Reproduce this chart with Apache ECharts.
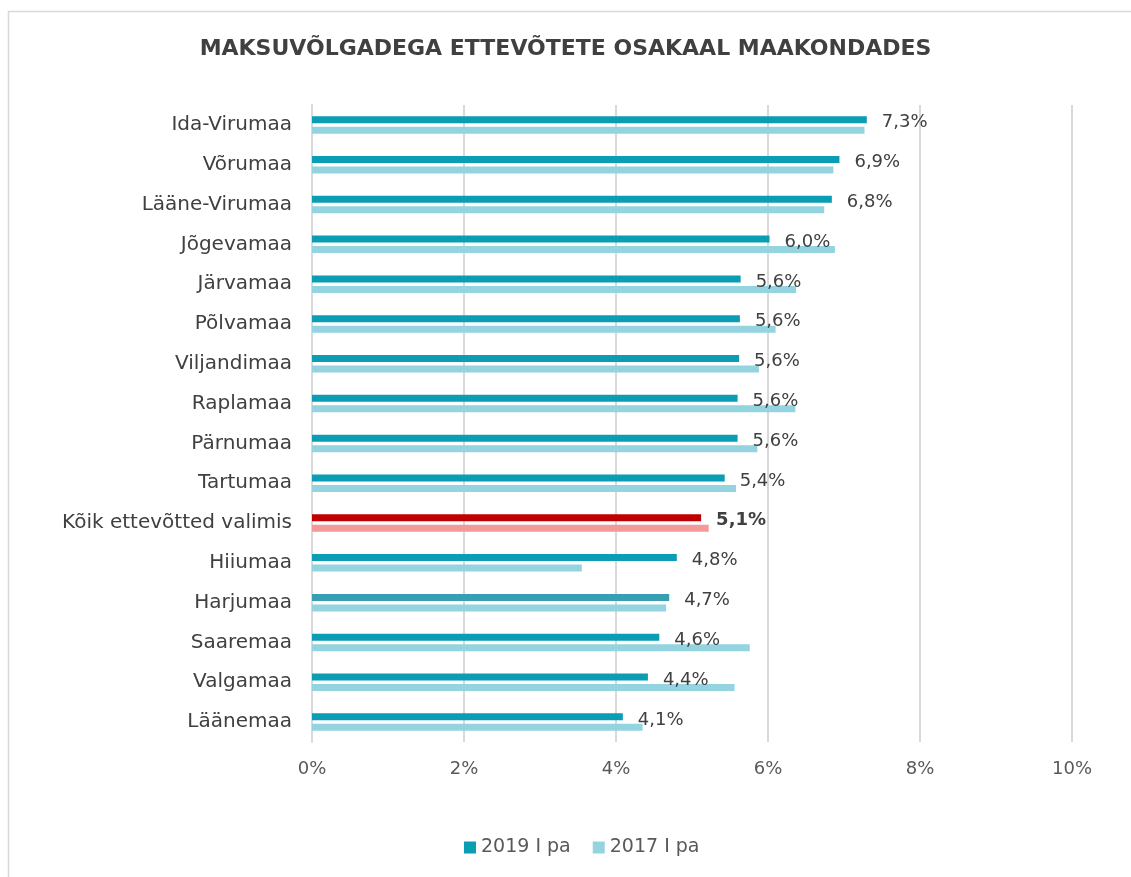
<!DOCTYPE html>
<html>
<head>
<meta charset="utf-8">
<script src="https://cdn.jsdelivr.net/npm/echarts@6/dist/echarts.min.js"></script>
<style>
  html, body { margin: 0; padding: 0; background: #fff; }
  #chart { width: 1131px; height: 877px; }
</style>
</head>
<body>
<div id="chart"></div>
<script>
// andmed
const categories = ['Ida-Virumaa', 'Võrumaa', 'Lääne-Virumaa', 'Jõgevamaa', 'Järvamaa', 'Põlvamaa',
    'Viljandimaa', 'Raplamaa', 'Pärnumaa', 'Tartumaa', 'Kõik ettevõtted valimis', 'Hiiumaa',
    'Harjumaa', 'Saaremaa', 'Valgamaa', 'Läänemaa']
const v2019 = [7.3, 6.94, 6.84, 6.02, 5.64, 5.63, 5.62, 5.6, 5.6, 5.43, 5.12, 4.8, 4.7, 4.57, 4.42, 4.09]
const v2017 = [7.27, 6.86, 6.74, 6.88, 6.37, 6.10, 5.88, 6.36, 5.86, 5.58, 5.22, 3.55, 4.66, 5.76, 5.56, 4.35]
const xTicks = [0, 2, 4, 6, 8, 10]
const seriesNames = ['2019 I pa', '2017 I pa']

const TOTAL = 'Kõik ettevõtted valimis'
const font = 'DejaVu Sans'

const myChart = echarts.init(document.getElementById('chart'))

const fmt = v => v.toFixed(1).replace('.', ',') + '%'

const option = {
    animation: false,
    textStyle: { fontFamily: font },
    title: {
        text: 'MAKSUVÕLGADEGA ETTEVÕTETE OSAKAAL MAAKONDADES',
        left: 'center',
        top: 33,
        textStyle: { fontFamily: font, fontSize: 22, fontWeight: 'bold', color: '#404040' }
    },
    graphic: [{
        type: 'rect',
        shape: { x: 8.5, y: 11.5, width: 1300, height: 1000 },
        style: { fill: 'none', stroke: '#d9d9d9', lineWidth: 1.5 },
        silent: true
    }],
    legend: {
        bottom: 15,
        left: 459,
        itemWidth: 12,
        itemHeight: 12,
        itemGap: 22,
        icon: 'rect',
        textStyle: { fontFamily: font, fontSize: 19, color: '#595959' },
        data: seriesNames
    },
    grid: { left: 312, right: 59, top: 105, bottom: 135 },
    xAxis: {
        type: 'value',
        min: 0,
        max: 10,
        interval: 2,
        axisLine: { show: false },
        axisTick: { show: false },
        splitLine: { lineStyle: { color: '#d9d9d9', width: 2 } },
        axisLabel: {
            margin: 18,
            fontSize: 18,
            color: '#595959',
            formatter: v => xTicks.includes(v) ? v + '%' : ''
        }
    },
    yAxis: {
        type: 'category',
        inverse: true,
        data: categories,
        axisLine: { show: true, lineStyle: { color: '#d9d9d9', width: 2 } },
        axisTick: { show: false },
        axisLabel: { margin: 20, fontSize: 20, color: '#404040' }
    },
    series: [
        {
            name: seriesNames[0],
            type: 'bar',
            data: v2019,
            barWidth: 7,
            barGap: '50%',
            itemStyle: {
                color: p => categories[p.dataIndex] === TOTAL ? '#c00000'
                    : (categories[p.dataIndex] === 'Harjumaa' ? '#389fb2' : '#0b9db4')
            },
            label: {
                show: true,
                position: 'right',
                distance: 15,
                offset: [0, 3],
                fontSize: 18,
                color: '#404040',
                formatter: p => fmt(p.value)
            },
            z: 3
        },
        {
            name: seriesNames[1],
            type: 'bar',
            data: v2017,
            barWidth: 7,
            itemStyle: {
                color: p => categories[p.dataIndex] === TOTAL ? '#f4999a' : '#93d4e0'
            },
            z: 2
        }
    ]
}

// koondrea silt paksus kirjas
option.series[0].data = v2019.map((v, i) => categories[i] === TOTAL
    ? { value: v, label: { fontWeight: 'bold' } } : v)
option.legend.data = [
    { name: seriesNames[0], itemStyle: { color: '#0b9db4' } },
    { name: seriesNames[1], itemStyle: { color: '#93d4e0' } }
]

myChart.setOption(option)
</script>
</body>
</html>
